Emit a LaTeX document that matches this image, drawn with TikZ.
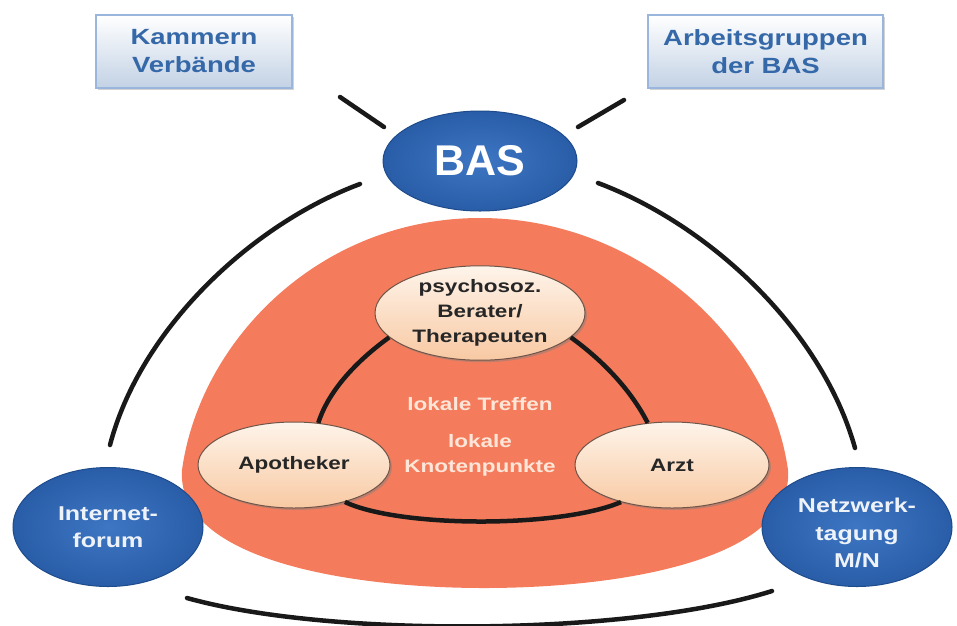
\documentclass[tikz,border=0pt]{standalone}
\usepackage{fontspec}
\setmainfont{Liberation Sans}
\newfontfamily\labfont[FakeStretch=1.25]{Liberation Sans}
\usetikzlibrary{shapes.geometric,shadows}
\definecolor{coral}{HTML}{F47C5C}
\definecolor{boxtxt}{HTML}{3568A8}
\definecolor{boxline}{HTML}{9AB6DC}
\definecolor{blueA}{HTML}{3E76C3}
\definecolor{blueB}{HTML}{295DA8}
\definecolor{blueline}{HTML}{1E4B8C}
\definecolor{beigeA}{HTML}{FEF4EA}
\definecolor{beigeB}{HTML}{F8C9A3}
\definecolor{beigeline}{HTML}{6F5548}
\definecolor{peach}{HTML}{FDE6D8}
\definecolor{bluetext}{HTML}{EEF3FA}
\tikzset{
  topbox/.style={rectangle, draw=boxline, line width=1.2pt, top color=white, bottom color=boxtxt!30,
    drop shadow={shadow xshift=2pt, shadow yshift=-2pt, opacity=.35},
    align=center, text=boxtxt, font=\labfont\bfseries\fontsize{22}{28}\selectfont, inner sep=0pt},
  blueell/.style={ellipse, draw=blueline, line width=1pt, inner color=blueA, outer color=blueB,
    inner sep=0pt, align=center, text=bluetext, font=\labfont\bfseries\fontsize{20}{27}\selectfont},
  beigeell/.style={ellipse, draw=beigeline, line width=1pt, top color=beigeA, bottom color=beigeB,
    drop shadow={shadow xshift=2pt, shadow yshift=-2pt, opacity=.45},
    inner sep=0pt, align=center, text=black!85, font=\labfont\bfseries\fontsize{18}{25}\selectfont},
  conn/.style={line width=4.5pt, black!90, line cap=round},
  inconn/.style={line width=4.5pt, black!90},
  centertxt/.style={align=center, text=peach, font=\labfont\bfseries\fontsize{18}{25}\selectfont, inner sep=0pt},
  bluetxt/.style={align=center, text=bluetext, font=\labfont\bfseries\fontsize{20}{27.5}\selectfont, inner sep=0pt}
}
\begin{document}
\begin{tikzpicture}[x=1pt,y=-1pt]
\useasboundingbox[fill=white] (0,0) rectangle (957,625);
% red area
\fill[coral] (480,218) .. controls (320,218) and (200,340) .. (182,470)
  .. controls (176,560) and (350,588) .. (484,588)
  .. controls (620,588) and (794,560) .. (788,470)
  .. controls (770,340) and (640,218) .. (480,218) -- cycle;
% top boxes
\node[topbox, minimum width=196pt, minimum height=73pt] (kam) at (194,51.5) {Kammern\\Verbände};
\node[topbox, minimum width=235pt, minimum height=73pt] (arb) at (765.5,51.5) {Arbeitsgruppen\\der BAS};
% blue ellipses
\node[blueell, minimum width=194pt, minimum height=100pt, text=white, font=\bfseries\fontsize{43}{50}\selectfont] (bas) at (480,161) {BAS};
\node[blueell, minimum width=190pt, minimum height=119pt] (inet) at (108,527) {Internet-\\forum};
\node[blueell, minimum width=190pt, minimum height=119pt] (netz) at (857,527) {};
\node[bluetxt] (netzt) at ([yshift=-6pt]netz.center) {Netzwerk-\\tagung\\M/N};
% beige ellipses
\node[beigeell, minimum width=210pt, minimum height=90pt] (psy) at (480,313) {psychosoz.\\Berater/\\Therapeuten};
\node[beigeell, minimum width=192pt, minimum height=86pt] (apo) at (294,465) {Apotheker};
\node[beigeell, minimum width=194pt, minimum height=86pt] (arzt) at (672,465) {Arzt};
% center texts
\node[centertxt] (treffen) at (480,404) {lokale Treffen};
\node[centertxt] (knoten) at (480,455) {lokale\\Knotenpunkte};
% inner connectors
\draw[inconn] (psy.195) .. controls (355,362) and (328,392) .. (apo.60);
\draw[inconn] (psy.-15) .. controls (605,362) and (632,392) .. (arzt.120);
\draw[inconn] (apo.-36) .. controls (400,528) and (560,528) .. (arzt.216);
% outer connectors
\coordinate (k1) at (340,97);
\coordinate (k2) at (384,127);
\coordinate (a1) at (624,100);
\coordinate (a2) at (578,127);
\coordinate (l1) at (360,184);
\coordinate (l2) at (110,445);
\coordinate (r1) at (598,183);
\coordinate (r2) at (855,448);
\coordinate (b1) at (187,598);
\coordinate (b2) at (772,591);
\draw[conn] (k1) -- (k2);
\draw[conn] (a1) -- (a2);
\draw[conn] (l1) .. controls (250,225) and (140,330) .. (l2);
\draw[conn] (r1) .. controls (710,225) and (822,330) .. (r2);
\draw[conn] (b1) .. controls (330,638) and (630,636) .. (b2);
\end{tikzpicture}
\end{document}
